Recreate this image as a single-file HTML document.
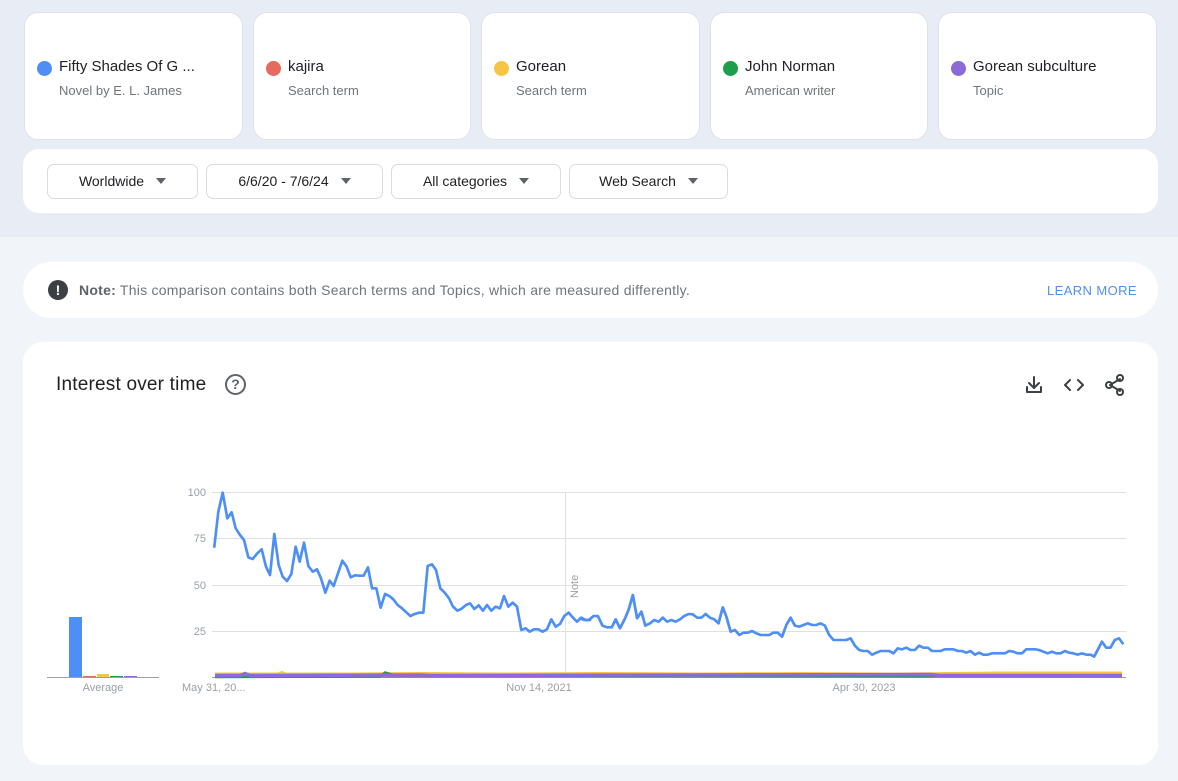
<!DOCTYPE html>
<html><head><meta charset="utf-8"><style>
*{box-sizing:border-box;margin:0;padding:0}
body{width:1178px;height:781px;overflow:hidden;background:#f1f4f9;font-family:"Liberation Sans",sans-serif;position:relative}
.top{position:absolute;left:0;top:0;width:1178px;height:237px;background:#e8edf5}
.card{position:absolute;top:12px;height:128px;background:#fff;border-radius:14px;border:1px solid #dde2ea}
.card .dot{position:absolute;left:12px;top:48px;width:15px;height:15px;border-radius:50%}
.card .t{position:absolute;left:34px;top:45px;font-size:15px;color:#202124}
.card .s{position:absolute;left:34px;top:70px;font-size:13px;color:#70757a}
.panel{position:absolute;left:23px;top:149px;width:1135px;height:64px;background:#fff;border-radius:16px}
.dd{position:absolute;top:15px;height:35px;border:1px solid #dadce0;border-radius:7px;font-size:14px;color:#202124;text-align:center;line-height:33px}
.dd i{display:inline-block;width:0;height:0;border-left:5px solid transparent;border-right:5px solid transparent;border-top:6px solid #5f6368;margin-left:12px;vertical-align:2px}
.note{position:absolute;left:23px;top:262px;width:1135px;height:56px;background:#fff;border-radius:28px}
.chart{position:absolute;left:23px;top:342px;width:1135px;height:423px;background:#fff;border-radius:20px}
</style></head><body>
<div class="top"></div>
<div class="card" style="left:24px;width:219px"><div class="dot" style="background:#4e8ff7"></div><div class="t">Fifty Shades Of G ...</div><div class="s">Novel by E. L. James</div></div>
<div class="card" style="left:253px;width:218px"><div class="dot" style="background:#e66a5e"></div><div class="t">kajira</div><div class="s">Search term</div></div>
<div class="card" style="left:481px;width:219px"><div class="dot" style="background:#f5c545"></div><div class="t">Gorean</div><div class="s">Search term</div></div>
<div class="card" style="left:710px;width:218px"><div class="dot" style="background:#1e9e4a"></div><div class="t">John Norman</div><div class="s">American writer</div></div>
<div class="card" style="left:938px;width:219px"><div class="dot" style="background:#8c6ad8"></div><div class="t">Gorean subculture</div><div class="s">Topic</div></div>
<div class="panel">
<div class="dd" style="left:24px;width:151px">Worldwide<i></i></div>
<div class="dd" style="left:183px;width:177px">6/6/20 - 7/6/24<i></i></div>
<div class="dd" style="left:368px;width:170px">All categories<i></i></div>
<div class="dd" style="left:546px;width:159px">Web Search<i></i></div>
</div>
<div class="note">
<div style="position:absolute;left:25px;top:18px;width:20px;height:20px;border-radius:50%;background:#3c4043;color:#fff;font-weight:bold;font-size:14px;text-align:center;line-height:20px">!</div>
<div style="position:absolute;left:56px;top:20px;font-size:14px;letter-spacing:0.25px;color:#70757a"><b style="color:#5f6368">Note:</b> This comparison contains both Search terms and Topics, which are measured differently.</div>
<div style="position:absolute;left:1024px;top:21px;font-size:13px;color:#4e8ff7;letter-spacing:0.4px">LEARN MORE</div>
</div>
<div class="chart">
<div style="position:absolute;left:33px;top:32px;font-size:19px;color:#202124;letter-spacing:0.2px">Interest over time</div>
<div style="position:absolute;left:202px;top:32px;width:21px;height:21px;border:2px solid #5f6368;border-radius:50%;font-size:14px;font-weight:bold;color:#5f6368;text-align:center;line-height:17px">?</div>
</div>
<svg style="position:absolute;left:0;top:0" width="1178" height="781">
<g fill="none" stroke-linecap="round" stroke-linejoin="round">
<path d="M1034 377v10M1029 383l5 5 5-5M1027 387v5h14v-5" stroke="#3c4043" stroke-width="2"/>
<path d="M1070 380l-5 5 5 5M1078 380l5 5-5 5" stroke="#3c4043" stroke-width="2"/>
<path d="M1110 385l10-6M1110 385l10 6" stroke="#3c4043" stroke-width="2"/>
<circle cx="1109" cy="385" r="3" stroke="#3c4043" stroke-width="2"/><circle cx="1120" cy="378" r="3" stroke="#3c4043" stroke-width="2"/><circle cx="1120" cy="392" r="3" stroke="#3c4043" stroke-width="2"/>
</g>
<g stroke="#e0e0e0" stroke-width="1">
<line x1="212" y1="492.5" x2="1126" y2="492.5"/><line x1="212" y1="538.5" x2="1126" y2="538.5"/><line x1="212" y1="585.5" x2="1126" y2="585.5"/><line x1="212" y1="631.5" x2="1126" y2="631.5"/>
<line x1="565.5" y1="492" x2="565.5" y2="677"/>
</g>
<line x1="212" y1="677.5" x2="1126" y2="677.5" stroke="#9aa0a6"/>
<line x1="47" y1="677.5" x2="159" y2="677.5" stroke="#9aa0a6"/>
<rect x="69" y="617" width="13" height="60" fill="#4e8ff7"/>
<rect x="83" y="676" width="13" height="1" fill="#e66a5e"/>
<rect x="97" y="674" width="12" height="3" fill="#f5c545"/>
<rect x="110" y="676" width="13" height="1" fill="#1e9e4a"/>
<rect x="124" y="676" width="13" height="1" fill="#8c6ad8"/>
<g font-size="11" fill="#9aa0a6" font-family="Liberation Sans, sans-serif">
<text x="206" y="496" text-anchor="end">100</text><text x="206" y="542" text-anchor="end">75</text><text x="206" y="589" text-anchor="end">50</text><text x="206" y="635" text-anchor="end">25</text>
<text x="103" y="691" text-anchor="middle">Average</text>
<text x="182" y="691">May 31, 20...</text>
<text x="539" y="691" text-anchor="middle">Nov 14, 2021</text>
<text x="864" y="691" text-anchor="middle">Apr 30, 2023</text>
<text transform="translate(578,598) rotate(-90)">Note</text>
</g>
<polyline points="215,674 278,674 282,672.5 286,674 350,674 420,673.5 500,674 600,673.5 700,674 800,673.5 900,674 1000,673 1122,673" fill="none" stroke="#f5c545" stroke-width="3"/>
<polyline points="215,677 1122,677" fill="none" stroke="#e66a5e" stroke-width="2"/>
<polyline points="215,677 380,676.5 385,672.5 395,675.5 1122,676" fill="none" stroke="#1e9e4a" stroke-width="2.5"/>
<polyline points="215,675.5 240,675.5 245,673.5 250,675.5 420,675 430,675.5 700,675 930,674.5 940,675.5 1122,675.5" fill="none" stroke="#8c6ad8" stroke-width="3.5"/>
<g transform="translate(170,480) scale(0.33333)" fill="none" stroke="#4e8ff7" stroke-width="8" stroke-linejoin="round" stroke-linecap="round">
<polyline points="133,200 145,95 158,38 172,115 185,97 197,145 210,165 222,180 235,232 248,237 262,220 275,208 288,260 300,285 313,162 326,255 338,290 351,303 364,282 377,200 389,245 402,188 415,258 428,275 441,268 453,295 466,338 479,302 491,318 504,280 517,242 530,260 542,292 555,286 568,287 581,287 594,262 606,325 619,325 632,383 645,342 658,348 670,358 683,375 696,385 709,397 721,408 734,402 747,398 760,398 773,258 786,253 798,270 811,325 824,338 837,355 849,380 862,392 875,386 888,375 900,370 913,387 926,376 939,392 951,375 964,392 977,380 990,385 1002,348 1015,380 1028,368 1041,380 1054,450 1067,445 1079,455 1092,448 1105,448 1118,455 1131,448 1144,418 1157,440 1170,432 1183,408 1196,398 1208,412 1221,425 1234,413 1247,420 1260,420"/>
</g>
<g transform="translate(580,480) scale(0.357,0.33333)" fill="none" stroke="#4e8ff7" stroke-width="7.8" stroke-linejoin="round" stroke-linecap="round">
<polyline points="0,415 12,420 25,420 38,408 50,408 63,437 76,442 89,442 100,418 112,445 125,418 136,390 148,345 160,415 172,395 183,437 196,430 208,420 220,425 232,413 244,425 256,420 268,425 280,418 292,408 304,402 316,403 328,413 340,413 352,402 364,413 376,418 388,430 400,382 410,410 422,455 434,450 446,465 458,458 470,458 482,453 494,460 506,465 518,465 530,465 542,458 554,458 566,470 578,435 590,413 602,437 614,440 626,435 638,430 650,435 662,435 674,430 686,437 698,465 710,480 722,480 734,480 746,480 758,475 770,497 782,510 794,513 806,513 818,524 830,518 842,513 854,513 866,513 878,520 890,505 902,508 914,503 926,510 938,510 950,497 962,503 974,503 986,513 998,513 1010,513 1022,508 1034,508 1046,508 1058,513 1070,513 1082,518 1094,513 1106,524 1118,518 1130,524 1142,524 1154,520 1166,520 1178,520 1190,520 1202,513 1214,515 1226,520 1238,520 1250,508 1262,508 1274,508 1286,510 1298,515 1310,520 1322,515 1334,520 1346,520 1358,513 1370,518 1382,520 1394,524 1406,520 1418,524 1430,524 1440,530 1450,510 1462,485 1474,503 1486,503 1498,480 1510,475 1520,490"/>
</g>
</svg>
</body></html>
